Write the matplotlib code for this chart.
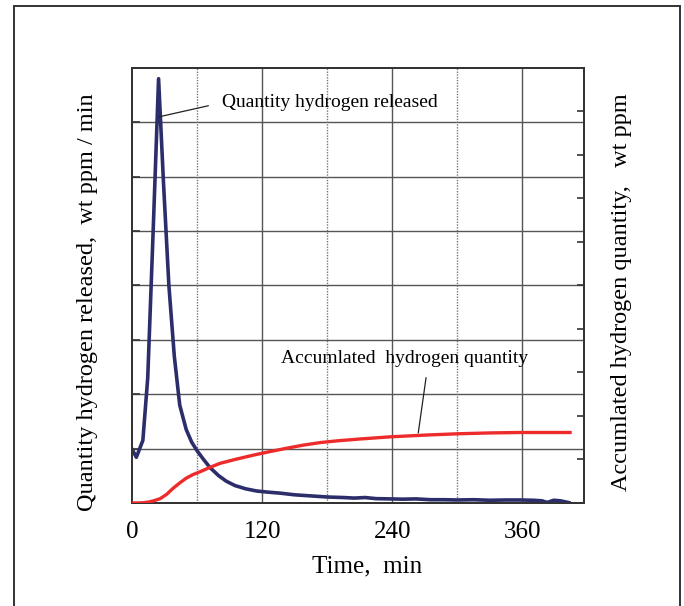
"""Hydrogen release and accumulated hydrogen vs time."""
import matplotlib.pyplot as plt
from matplotlib.patches import Rectangle

plt.rcParams['font.family'] = ['Liberation Serif', 'DejaVu Serif']

# %%
# data
t_rate = [0, 4, 10, 14.5, 19.5, 24.5, 29, 34, 39, 44, 50, 55, 60, 66, 72, 80, 87,
          95, 105, 115, 125, 137, 150, 165, 180, 195, 205, 215, 225, 238, 250,
          262, 275, 288, 300, 315, 330, 345, 358, 370, 378, 383, 389, 395, 403]
rate = [0.99, 0.84, 1.15, 2.3, 5.0, 7.8, 5.9, 4.0, 2.7, 1.8, 1.35, 1.12, 0.96,
        0.8, 0.65, 0.5, 0.4, 0.32, 0.26, 0.22, 0.2, 0.18, 0.15, 0.13, 0.11, 0.1,
        0.09, 0.1, 0.08, 0.075, 0.07, 0.075, 0.06, 0.06, 0.055, 0.06, 0.05,
        0.055, 0.055, 0.05, 0.04, 0.01, 0.05, 0.04, 0.006]

t_acc = [0, 5, 10, 15, 20, 26, 32, 38, 44, 50, 56, 63, 72, 81, 95, 112, 127,
         143, 158, 174, 190, 210, 238, 270, 300, 330, 358, 404]
acc = [0, 0, 0.005, 0.02, 0.05, 0.1, 0.2, 0.34, 0.46, 0.57, 0.65, 0.72, 0.82,
       0.91, 1.0, 1.1, 1.18, 1.26, 1.33, 1.39, 1.43, 1.47, 1.52, 1.56, 1.59,
       1.61, 1.62, 1.62]

x_ticks = [0, 120, 240, 360]

# %%
fig = plt.figure(figsize=(6.84, 6.06), dpi=100)
ax = fig.add_axes([0.193, 0.170, 0.661, 0.718])
ax2 = ax.twinx()

# outer frame
fig.patches.append(Rectangle((0.0205, -0.05), 0.974, 1.04, transform=fig.transFigure,
                             fill=False, edgecolor='#333333', linewidth=1.4))

ax.set_xlim(0, 417)
ax.set_ylim(0, 8)
ax2.set_ylim(0, 10)

# grid
for v in range(1, 8):
    ax.axhline(v, color='#555555', linewidth=1.0, zorder=0)
for t in [60, 180, 300]:
    ax.axvline(t, color='#777777', linewidth=1.0, linestyle=(0, (1, 1)), zorder=0)
for t in [120, 240, 360]:
    ax.axvline(t, color='#555555', linewidth=1.0, zorder=0)

ax.plot(t_rate, rate, color='#2b2e6a', linewidth=2.6, zorder=3)
ax2.plot(t_acc, acc, color='#ee2b2b', linewidth=2.4, zorder=3)

ax.set_xticks(x_ticks)
ax.set_xticklabels([str(x) for x in x_ticks], fontsize=18)
ax.set_yticks(range(0, 9))
ax.set_yticklabels([])
ax2.set_yticks(range(0, 11))
ax2.set_yticklabels([])
ax.tick_params(axis='x', length=0, pad=13)
ax.tick_params(axis='y', direction='in', length=6, width=1.2, colors='#333333')
ax2.tick_params(axis='y', direction='in', length=5, width=1.2, colors='#333333')

for a in (ax, ax2):
    for s in a.spines.values():
        s.set_color('#333333')
        s.set_linewidth(1.3)

ax.set_xlabel('Time,  min', fontsize=18)
ax.xaxis.set_label_coords(0.52, -0.12)
ax.set_ylabel('Quantity hydrogen released,  wt ppm / min', fontsize=17.5)
ax.yaxis.set_label_coords(-0.075, 0.462)
ax2.set_ylabel('Accumlated hydrogen quantity,   wt ppm', fontsize=17.5)
ax2.yaxis.set_label_coords(1.06, 0.485)

ax.annotate('Quantity hydrogen released', xy=(24.9, 7.1), xytext=(83, 7.36),
            fontsize=14, ha='left', va='center',
            arrowprops=dict(arrowstyle='-', color='#222222', lw=0.9,
                            relpos=(0, 0.5), shrinkA=8, shrinkB=0))
ax2.annotate('Accumlated  hydrogen quantity', xy=(264, 1.61), xytext=(251, 3.33),
             fontsize=14, ha='center', va='center',
             arrowprops=dict(arrowstyle='-', color='#222222', lw=0.9,
                             relpos=(0.595, 0), shrinkA=6, shrinkB=0))

fig.savefig('out.png', dpi=100)
